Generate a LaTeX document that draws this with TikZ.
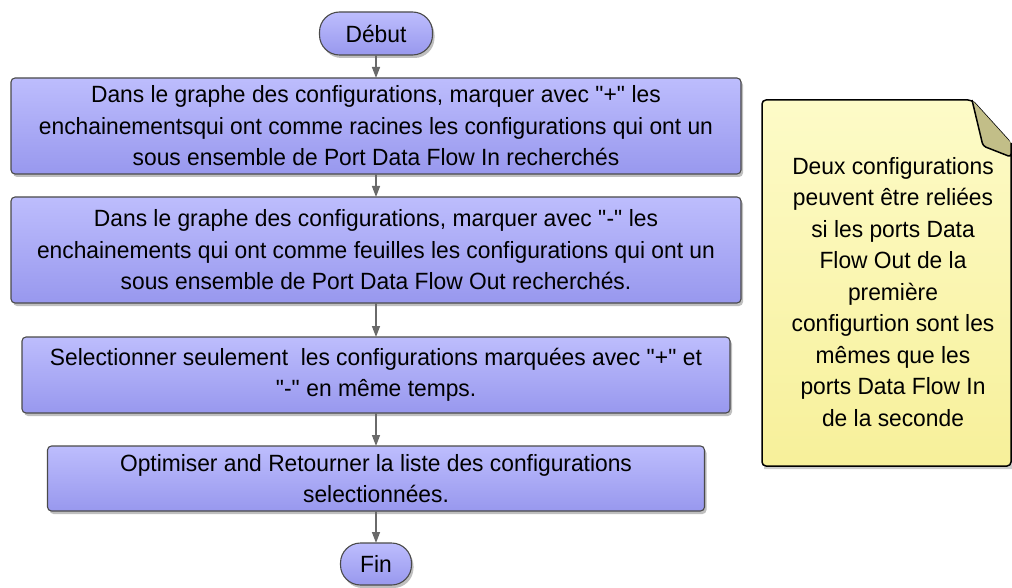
\documentclass[tikz,border=0pt]{standalone}
\usepackage{fontspec}
\setmainfont[FakeStretch=0.97]{Liberation Sans}
\usepackage{xcolor}
\usetikzlibrary{positioning,arrows.meta,shadows}
\definecolor{boxtop}{HTML}{BDBDFD}
\definecolor{boxbot}{HTML}{9898EE}
\definecolor{boxline}{HTML}{4A4A4A}
\definecolor{notetop}{HTML}{FDFBC8}
\definecolor{notebot}{HTML}{F7F09A}
\definecolor{flap}{HTML}{C2BE88}
\definecolor{arrgray}{HTML}{6A6A6A}
\newcommand{\dq}{\textquotedbl}

\begin{document}
\begin{tikzpicture}[
  font=\fontsize{23.5}{31.5}\selectfont, >={Triangle[length=11pt,width=8pt]},
  stepbox/.style={draw=boxline, line width=1.1pt, rounded corners=4pt,
    top color=boxtop, bottom color=boxbot, align=center, inner sep=0pt, outer sep=0pt,
    drop shadow={shadow xshift=2pt, shadow yshift=-3pt, fill=black, opacity=.25}},
  term/.style={stepbox, rounded corners=20pt},
  arr/.style={->, draw=arrgray, line width=1.4pt}
]
\useasboundingbox (0pt,0pt) rectangle (1012pt,-588pt);
\node[term, minimum width=113pt, minimum height=43pt] (debut) at (376pt,-33.5pt) {Début};
\node[stepbox, below=23pt of debut, minimum width=730pt, minimum height=96pt] (mplus)
  {Dans le graphe des configurations, marquer avec \dq+\dq{} les\\
   enchainementsqui ont comme racines les configurations qui ont un\\
   sous ensemble de Port Data Flow In recherchés};
\node[stepbox, below=23pt of mplus, minimum width=730pt, minimum height=106pt] (mmoins)
  {Dans le graphe des configurations, marquer avec \dq-\dq{} les\\
   enchainements qui ont comme feuilles les configurations qui ont un\\
   sous ensemble de Port Data Flow Out recherchés.};
\node[stepbox, below=34pt of mmoins, minimum width=708pt, minimum height=76pt] (select)
  {Selectionner seulement~ les configurations marquées avec \dq+\dq{} et\\
   \dq-\dq{} en même temps.};
\node[stepbox, below=33pt of select, minimum width=657pt, minimum height=65pt] (optim)
  {Optimiser and Retourner la liste des configurations\\
   selectionnées.};
\node[term, below=32pt of optim, minimum width=71pt, minimum height=42pt] (fin) {Fin};
\foreach \u/\v in {debut/mplus,mplus/mmoins,mmoins/select,select/optim,optim/fin}{\draw[arr] (\u)--(\v);}
% note
\coordinate (nw) at (762pt,-100pt);
\coordinate (fold) at (972pt,-100pt);
\coordinate (ne) at (1011pt,-143pt);
\coordinate (se) at (1011pt,-466pt);
\coordinate (sw) at (762pt,-466pt);
\fill[black, opacity=.2] ([shift={(2pt,-3pt)}]nw) -- ([shift={(2pt,-3pt)}]fold) -- ([shift={(2pt,-3pt)}]ne)
  -- ([shift={(2pt,-3pt)}]se) -- ([shift={(2pt,-3pt)}]sw) -- cycle;
\draw[line width=1.5pt, top color=notetop, bottom color=notebot, rounded corners=4pt]
  (nw) -- (fold) -- (ne) -- (se) -- (sw) -- cycle;
\draw[line width=1.5pt, fill=flap, rounded corners=3pt] (fold) -- (983pt,-146pt) -- (1011pt,-157pt) -- (ne);
\node[align=center, inner sep=0pt] (note) at (893pt,-292pt)
  {Deux configurations\\ peuvent être reliées\\ si les ports Data\\ Flow Out de la\\ première\\
   configurtion sont les\\ mêmes que les\\ ports Data Flow In\\ de la seconde};
\end{tikzpicture}
\end{document}
